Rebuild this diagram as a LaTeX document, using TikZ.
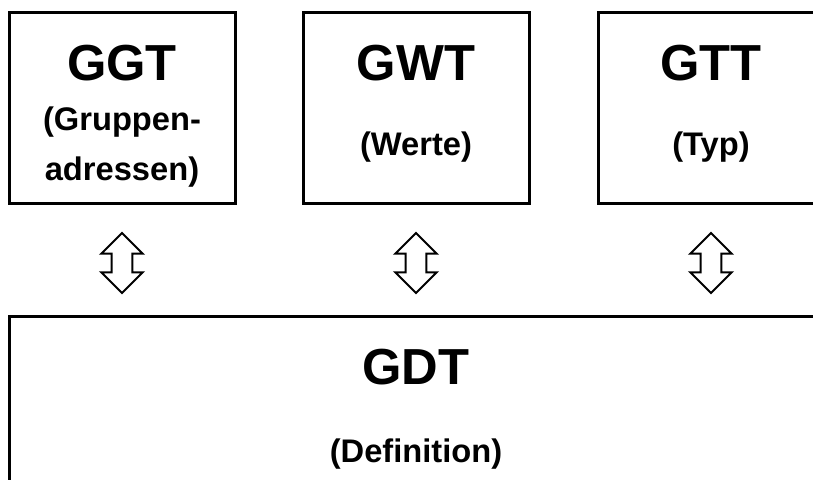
\documentclass[tikz,border=0pt]{standalone}
\usepackage{fontspec}
\setmainfont{Liberation Sans}
\usetikzlibrary{shapes.arrows}
\begin{document}
\begin{tikzpicture}
[
x=0.75pt, y=-0.75pt,
tablebox/.style={rectangle, draw=black, line width=2.25pt, minimum width=169.5pt, minimum height=143.25pt, inner sep=0},
bigbox/.style={rectangle, draw=black, line width=2.25pt, minimum width=610.5pt, minimum height=213pt, inner sep=0},
titletext/.style={font=\bfseries\fontsize{38}{38}\selectfont, inner sep=0, anchor=base},
subtext/.style={font=\bfseries\fontsize{24.5}{37.5}\selectfont, align=center, inner sep=0},
updown/.style={double arrow, draw=black, line width=1.5pt, rotate=90, inner sep=7pt, double arrow head extend=7.75pt, minimum height=45pt}
]
\useasboundingbox (0,0) rectangle (813,479);
\clip (0,0) rectangle (813,479);
%Nodes
\node[tablebox] at(122,107.5)	(ggt) {};
\node[tablebox] at(416,107.5)	(gwt) {};
\node[tablebox] at(711,107.5)	(gtt) {};
\node[bigbox] at(416,458)		(gdt) {};
\node[titletext]	(ggtt) at([yshift=-52.5pt]ggt.north) {GGT};
\node[titletext]	(gwtt) at([yshift=-52.5pt]gwt.north) {GWT};
\node[titletext]	(gttt) at([yshift=-52.5pt]gtt.north) {GTT};
\node[titletext]	(gdtt) at([yshift=-52.5pt]gdt.north) {GDT};
\node[subtext]		(ggts) at([yshift=-102.75pt]ggt.north) {(Gruppen-\\adressen)};
\node[subtext]		(gwts) at([yshift=-102.75pt]gwt.north) {(Werte)};
\node[subtext]		(gtts) at([yshift=-102.75pt]gtt.north) {(Typ)};
\node[subtext]		(gdts) at([yshift=-105pt]gdt.north) {(Definition)};
%Arrows
\node[updown] at(122,263)	(a1) {};
\node[updown] at(416,263)	(a2) {};
\node[updown] at(711,263)	(a3) {};
\end{tikzpicture}
\end{document}
